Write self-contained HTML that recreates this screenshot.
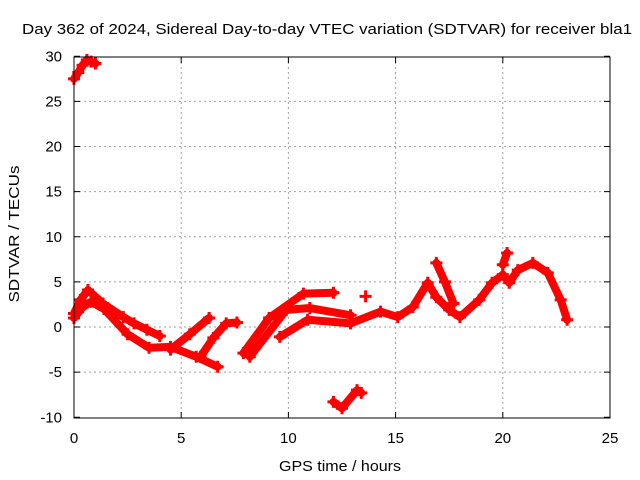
<!DOCTYPE html>
<html><head><meta charset="utf-8"><style>
body{margin:0;background:#fff}
svg{display:block;font-family:"Liberation Sans",sans-serif;font-size:15px}
</style></head><body>
<svg id="c" width="640" height="480">
<text x="327" y="34" text-anchor="middle" textLength="610" lengthAdjust="spacingAndGlyphs">Day 362 of 2024, Sidereal Day-to-day VTEC variation (SDTVAR) for receiver bla1</text>
<text x="340" y="471" text-anchor="middle" textLength="122" lengthAdjust="spacingAndGlyphs">GPS time / hours</text>
<text transform="translate(19,234) rotate(-90)" text-anchor="middle" textLength="137" lengthAdjust="spacingAndGlyphs">SDTVAR / TECUs</text>
<g id="grid"></g><g id="ticks"></g><g id="marks"></g>
<rect x="74" y="57" width="536" height="361" fill="none" stroke="#000" stroke-width="1"/>
</svg>
<script>
const xTicks=[0,5,10,15,20,25];
const yTicks=[-10,-5,0,5,10,15,20,25,30];
const trackTop_h=[0,0.2,0.4,0.6,0.8,1.0];
const trackTop_v=[27.5,28.2,29,29.6,29.4,29.2];
const trackA_h=[0,0.3,0.65,1.35,2.3,2.8,3.4,4.0];
const trackA_v=[1.5,3.0,4.1,2.6,1.1,0.4,-0.3,-1.0];
const trackB_h=[0,0.4,0.8,1.4,2.5,3.5,4.5,5.7,6.7];
const trackB_v=[1.0,2.2,2.8,2.0,-0.8,-2.3,-2.2,-3.3,-4.4];
const trackC_h=[4.5,5.4,6.3];
const trackC_v=[-2.5,-0.8,1.0];
const trackD_h=[5.9,6.5,7.1,7.6];
const trackD_v=[-3.3,-1.2,0.4,0.5];
const trackE_h=[7.9,9.1,10.7,12.1];
const trackE_v=[-2.9,1.0,3.7,3.8];
const trackF_h=[8.2,9.9,11.0,12.9];
const trackF_v=[-3.3,1.9,2.1,1.3];
const trackG_h=[9.6,10.9,12.9,14.3,15.1,15.8,16.5,16.9,17.5,18.0,18.9,19.5,20.0,20.3,20.7,21.4,22.1,22.7,23.0];
const trackG_v=[-1.1,0.8,0.4,1.7,1.1,2.2,4.9,3.3,1.9,1.1,3.0,4.9,5.8,4.9,6.3,7.1,6.0,3.0,0.8];
const trackH_h=[16.9,17.3,17.7];
const trackH_v=[7.1,5.0,2.6];
const trackI_h=[20.0,20.2];
const trackI_v=[6.9,8.2];
const trackJ_h=[12.1,12.5,13.2,13.4];
const trackJ_v=[-8.3,-9.0,-7.0,-7.3];
const trackK_h=[13.6];
const trackK_v=[3.4];
const tracks=[[trackTop_h,trackTop_v],[trackA_h,trackA_v],[trackB_h,trackB_v],[trackC_h,trackC_v],[trackD_h,trackD_v],[trackE_h,trackE_v],[trackF_h,trackF_v],[trackG_h,trackG_v],[trackH_h,trackH_v],[trackI_h,trackI_v],[trackJ_h,trackJ_v],[trackK_h,trackK_v]];
const NS='http://www.w3.org/2000/svg';
const X=h=>74+h*(536/25), Y=v=>327-v*(361/40);
function mk(t,a,p){const e=document.createElementNS(NS,t);for(const k in a)e.setAttribute(k,a[k]);p.appendChild(e);return e;}
const g=document.getElementById('grid'),tk=document.getElementById('ticks'),m=document.getElementById('marks');
xTicks.forEach(t=>{const x=X(t);
 if(t>0&&t<25){const l=mk('line',{x1:x,x2:x,y1:57,y2:418,stroke:'#a0a0a0','stroke-dasharray':'2,3'},g);
 
 }
 mk('line',{x1:x,x2:x,y1:418,y2:412,stroke:'#000'},tk);mk('line',{x1:x,x2:x,y1:57,y2:63,stroke:'#000'},tk);
 const s=mk('text',{x:x,y:443,'text-anchor':'middle'},tk);s.textContent=t;
 
 });
yTicks.forEach(t=>{const y=Y(t);
 if(t>-10&&t<30){const l=mk('line',{x1:74,x2:610,y1:y,y2:y,stroke:'#a0a0a0','stroke-dasharray':'2,3'},g);
 
 }
 mk('line',{x1:74,x2:80,y1:y,y2:y,stroke:'#000'},tk);mk('line',{x1:610,x2:604,y1:y,y2:y,stroke:'#000'},tk);
 const s=mk('text',{x:62,y:y+5,'text-anchor':'end'},tk);s.textContent=t;
 
 });
tracks.forEach(([hs,vs])=>{
 const pts=hs.map((h,i)=>X(h)+','+Y(vs[i])).join(' ');
 const pl=mk('polyline',{points:pts,fill:'none',stroke:'#ff0000','stroke-width':8,'stroke-linejoin':'round','stroke-linecap':'round'},m);
 
 
 hs.forEach((h,i)=>{const x=X(h),y=Y(vs[i]);
  const p=mk('path',{d:`M${x-6},${y}H${x+6}M${x},${y-6}V${y+6}`,stroke:'#ff0000','stroke-width':3},m);
  
  });
});
</script>
</body></html>
